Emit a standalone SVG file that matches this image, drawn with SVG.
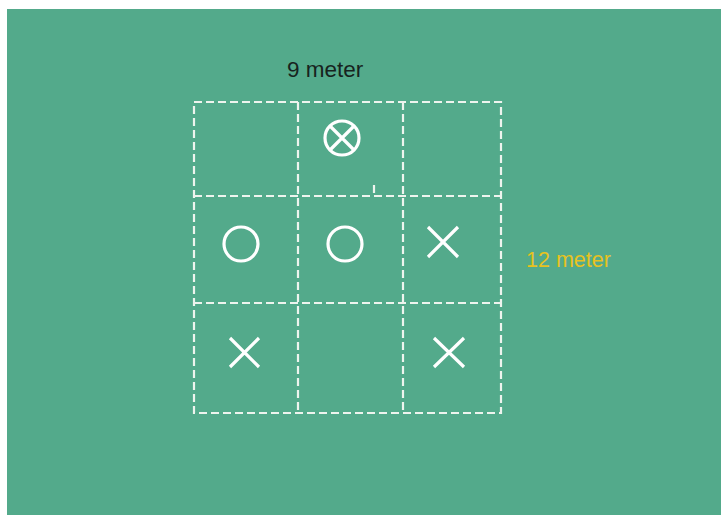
<svg xmlns="http://www.w3.org/2000/svg" width="721" height="515" viewBox="0 0 721 515">
<style>
.grid{fill:none;stroke:#eef4ee;stroke-width:2.2;stroke-dasharray:8 4}
.sym{fill:none;stroke:#ffffff;stroke-width:3.2;stroke-linecap:butt}
.lbl{font-family:"Liberation Sans",Arial,sans-serif;font-size:21.5px}
</style>
<rect x="0" y="0" width="721" height="515" fill="#ffffff"/>
<rect x="7" y="9" width="714" height="506" fill="#53aa8b"/>
<g id="grid">
<rect class="grid" x="194" y="102" width="307" height="311"/>
<line class="grid" x1="298" y1="102" x2="298" y2="413"/>
<line class="grid" x1="403" y1="102" x2="403" y2="413"/>
<line class="grid" x1="194" y1="196" x2="501" y2="196"/>
<line class="grid" x1="194" y1="303" x2="501" y2="303"/>
<line class="grid" x1="374" y1="185" x2="374" y2="193" stroke-dasharray="none" stroke-width="1.5"/>
</g>
<g id="cell-top-mid"><circle class="sym" cx="342" cy="138" r="17"/><path class="sym" d="M330 126L354 150M354 126L330 150"/></g>
<g id="cell-mid-left"><circle class="sym" cx="241" cy="244" r="17"/></g>
<g id="cell-mid-mid"><circle class="sym" cx="345" cy="244" r="17"/></g>
<g id="cell-mid-right"><path class="sym" d="M428 227L458 257M458 227L428 257"/></g>
<g id="cell-bot-left"><path class="sym" d="M230 338L259 367M259 338L230 367"/></g>
<g id="cell-bot-right"><path class="sym" d="M434 338L464 367M464 338L434 367"/></g>
<g id="labels">
<text class="lbl" x="287" y="77" fill="#17231e" style="font-size:22.5px">9 meter</text>
<text class="lbl" x="526" y="267" fill="#e8c21e">12 meter</text>
</g>
</svg>
